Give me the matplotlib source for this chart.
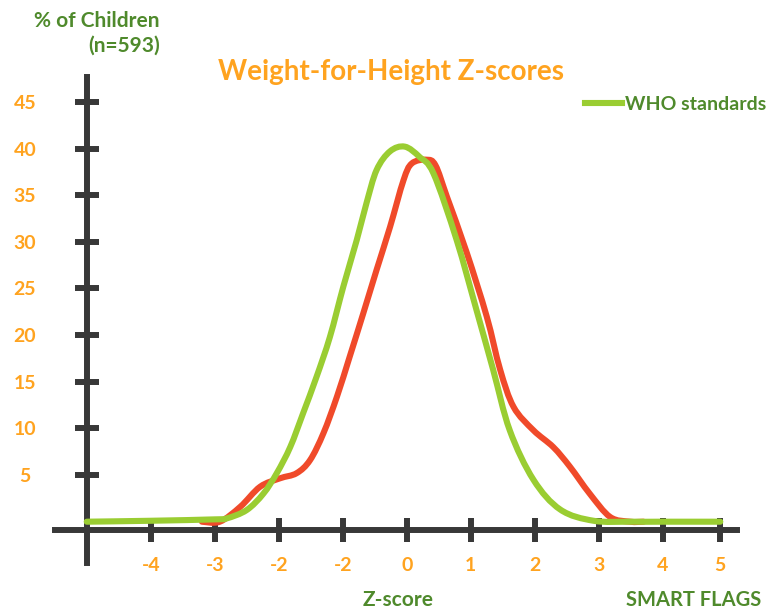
import matplotlib
matplotlib.use("Agg")
import matplotlib.pyplot as plt
from matplotlib.path import Path
from matplotlib.patches import PathPatch
from matplotlib.lines import Line2D

# WHO standard curve: z-score vs % of children
who_z = [-5.0, -4.0, -3.0, -2.81, -2.50, -2.24, -2.03, -1.82, -1.62, -1.41,
         -1.20, -0.99, -0.78, -0.63, -0.47, -0.26, -0.03, 0.20, 0.42, 0.78,
         1.09, 1.35, 1.61, 1.98, 2.40, 2.92, 3.5, 4.0, 4.9]
who_pct = [0.0, 0.1, 0.25, 0.36, 1.25, 3.0, 5.2, 8.0, 11.6, 15.5,
           19.8, 25.2, 30.2, 34.1, 37.7, 39.7, 40.2, 39.1, 37.3, 30.2,
           22.7, 16.3, 9.8, 4.5, 1.3, 0.1, 0.0, 0.0, 0.0]

# survey sample curve (n=593)
survey_z = [-3.2, -2.92, -2.60, -2.29, -1.98, -1.72, -1.51, -1.30, -1.09, -0.89,
            -0.68, -0.47, -0.26, -0.05, 0.08, 0.31, 0.45, 0.63, 0.94, 1.25,
            1.46, 1.67, 1.98, 2.29, 2.55, 2.86, 3.18, 3.49, 3.7]
survey_pct = [0.0, 0.0, 1.6, 3.75, 4.65, 5.2, 6.6, 9.5, 13.4, 17.7,
              22.3, 27.0, 31.6, 36.6, 38.4, 38.8, 38.2, 34.8, 28.8, 22.0,
              16.3, 12.3, 9.8, 8.0, 5.9, 3.0, 0.5, 0.0, 0.0]

# tick positions / labels as drawn in the original (note the repeated -2)
x_ticks = [-4, -3, -2, -1, 0, 1, 2, 3, 4, 4.9]
x_labels = ["-4", "-3", "-2", "-2", "0", "1", "2", "3", "4", "5"]
y_ticks = [5, 10, 15, 20, 25, 30, 35, 40, 45]

ORANGE = "#FFA31F"
DKGREEN = "#4F8A2C"
LTGREEN = "#9ACD32"
RED = "#F04A2A"
AXIS = "#383838"

W, H = 769, 612


def smooth_path(xs, ys, k=1.0):
    # excel-style "smoothed line": cubic bezier through every point
    pts = list(zip(xs, ys))
    verts = [pts[0]]
    codes = [Path.MOVETO]
    n = len(pts)
    for i in range(n - 1):
        p0 = pts[max(i - 1, 0)]
        p1 = pts[i]
        p2 = pts[i + 1]
        p3 = pts[min(i + 2, n - 1)]
        c1 = (p1[0] + (p2[0] - p0[0]) * k / 6, p1[1] + (p2[1] - p0[1]) * k / 6)
        c2 = (p2[0] - (p3[0] - p1[0]) * k / 6, p2[1] - (p3[1] - p1[1]) * k / 6)
        verts += [c1, c2, p2]
        codes += [Path.CURVE4] * 3
    return Path(verts, codes)


plt.rcParams["font.family"] = ["Lato", "DejaVu Sans"]
plt.rcParams["font.weight"] = "bold"

fig = plt.figure(figsize=(W / 100, H / 100), dpi=100)
ax = fig.add_axes([0, 0, 1, 1])
ax.patch.set_alpha(0)

# data -> pixel mapping picked so the axes sit where they do in the source
ax.set_xlim(-406.7 / 64, (W - 406.7) / 64)
ax.set_ylim((521.7 - H) / 9.33, 521.7 / 9.33)

ax.add_patch(PathPatch(smooth_path(survey_z, survey_pct), fill=False,
                       edgecolor=RED, lw=4.4, capstyle="round",
                       joinstyle="round", zorder=3))
ax.add_patch(PathPatch(smooth_path(who_z, who_pct), fill=False,
                       edgecolor=LTGREEN, lw=4.4, capstyle="round",
                       joinstyle="round", zorder=4))

for s in ["top", "right"]:
    ax.spines[s].set_visible(False)
ax.spines["left"].set_position(("data", -5))
ax.spines["bottom"].set_position(("data", -0.85))
ax.spines["left"].set_bounds(-4.4, 47.7)
ax.spines["bottom"].set_bounds(-5.5, 5.16)
for s in ["left", "bottom"]:
    ax.spines[s].set_linewidth(4.3)
    ax.spines[s].set_color(AXIS)
    ax.spines[s].set_zorder(2)

ax.set_xticks(x_ticks)
ax.set_xticklabels(x_labels)
ax.set_yticks(y_ticks)
ax.tick_params(direction="inout", length=17, width=4.3, color=AXIS,
               labelcolor=ORANGE, labelsize=14)
ax.tick_params(axis="x", pad=11)
ax.tick_params(axis="y", pad=36)
for lab in ax.get_yticklabels():
    lab.set_horizontalalignment("center")

fig.text(391 / W, 1 - 72 / H, "Weight-for-Height Z-scores", color=ORANGE,
         fontsize=20, fontweight="bold", ha="center", va="center")
fig.text(160 / W, 1 - 33 / H, "% of Children\n(n=593)", color=DKGREEN,
         fontsize=15, fontweight="bold", ha="right", va="center",
         multialignment="right", linespacing=1.3)
fig.text(398 / W, 1 - 600 / H, "Z-score", color=DKGREEN, fontsize=15,
         fontweight="bold", ha="center", va="center")
fig.text(694 / W, 1 - 600 / H, "SMART FLAGS", color=DKGREEN, fontsize=14.5,
         fontweight="bold", ha="center", va="center")

handle = Line2D([], [], color=LTGREEN, lw=4.4)
leg = ax.legend([handle], ["WHO standards"], loc="center right",
                bbox_to_anchor=(766 / W, 1 - 104 / H),
                bbox_transform=fig.transFigure, frameon=False, fontsize=14,
                handlelength=1.9, handletextpad=0.15, borderpad=0,
                borderaxespad=0)
for t in leg.get_texts():
    t.set_color(DKGREEN)

fig.savefig("out.png", dpi=100)
